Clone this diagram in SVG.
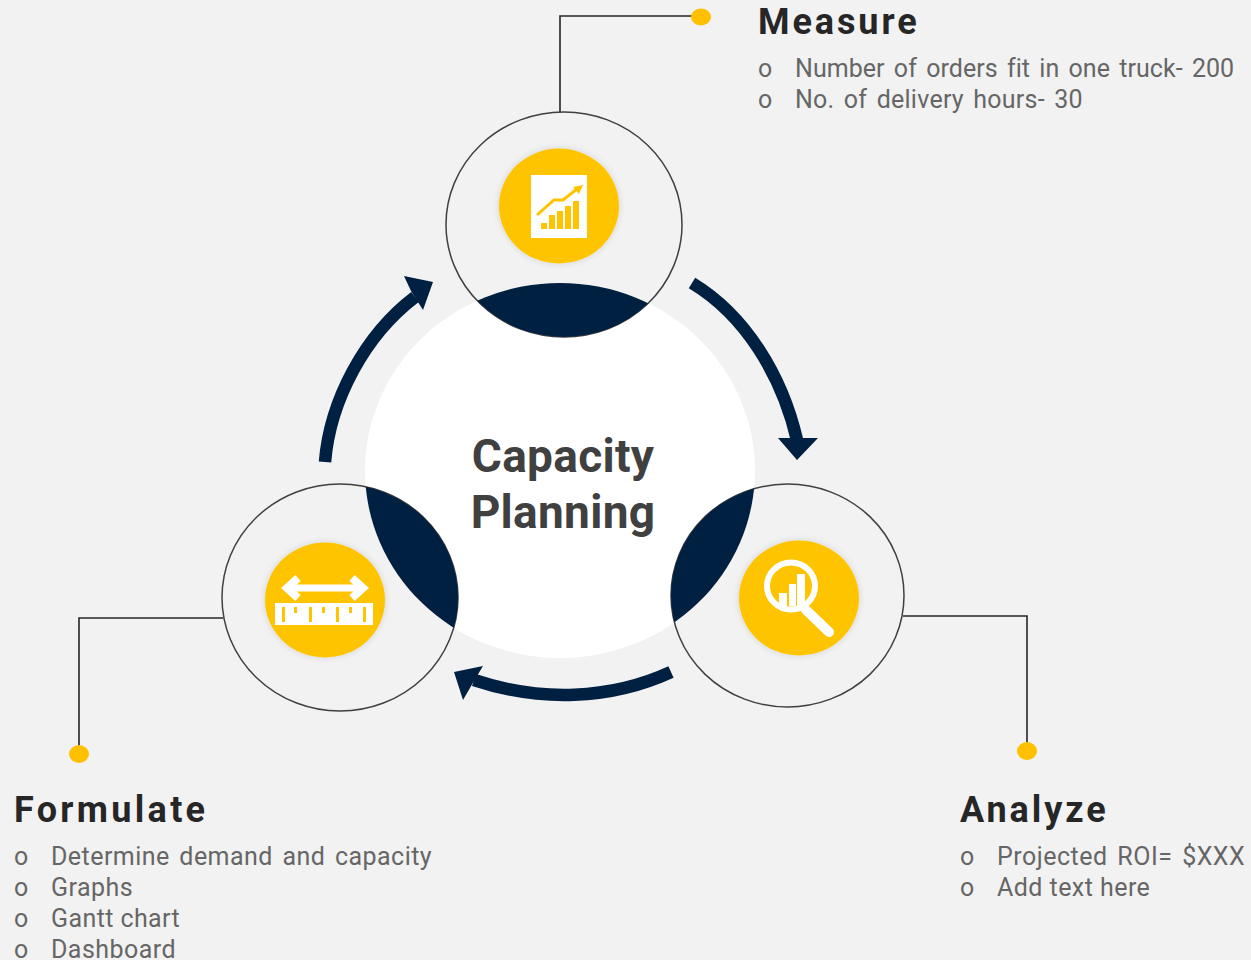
<svg xmlns="http://www.w3.org/2000/svg" width="1251" height="960" viewBox="0 0 1251 960">
<style>
.ring{fill:none;stroke:#404040;stroke-width:1.5}
.lens{fill:#002042}
.badge{fill:#ffc400;filter:url(#soft)}
.ic{fill:#fff}
.cut{fill:#ffc400}
.arrow{fill:none;stroke:#002042;stroke-width:12.500}
.head{fill:#002042}
.wire{fill:none;stroke:#262626;stroke-width:1.600}
.dot{fill:#ffc000}
.title{font-family:"Roboto","Liberation Sans",sans-serif;font-weight:700;font-size:36px;letter-spacing:2.900px;fill:#262626}
.h{font-family:"Roboto","Liberation Sans",sans-serif;font-weight:700;font-size:46px;letter-spacing:.3px;fill:#404040}
.b{font-family:"Roboto","Liberation Sans",sans-serif;font-size:25px;fill:#666}
</style>
<defs>
<clipPath id="cw"><ellipse cx="560" cy="470.500" rx="195" ry="187.500"/></clipPath>
<filter id="soft" x="-15%" y="-15%" width="130%" height="130%"><feDropShadow dx="0" dy="0" stdDeviation="3" flood-color="#000" flood-opacity=".14"/></filter>
</defs>
<rect width="1251" height="960" fill="#f2f2f2"/>
<g id="hub">
<ellipse cx="560" cy="470.500" rx="195" ry="187.500" fill="#fff"/>
<text class="h" x="563" y="472" text-anchor="middle">Capacity</text>
<text class="h" x="563" y="528" text-anchor="middle">Planning</text>
</g>
<g id="connectors">
<path class="wire" d="M560 112V16H692"/>
<path class="wire" d="M903 616H1027V744"/>
<path class="wire" d="M223 618H79V746"/>
<path class="arrow" d="M692 283C745 315 782 375 797 440"/>
<polygon class="head" points="778,438 818,438 797,460"/>
<path class="arrow" d="M325 462C330 400 365 335 415 297"/>
<polygon class="head" points="404,276 433,282 423,310 411,291"/>
<path class="arrow" d="M671 672C610 700 540 702 474 680"/>
<polygon class="head" points="483,666 454,672 463,700 474,681"/>
</g>
<g id="measure">
<ellipse class="ring" cx="564" cy="224.500" rx="118" ry="112.500"/>
<ellipse class="lens" cx="564" cy="224.500" rx="118" ry="112.500" clip-path="url(#cw)"/>
<ellipse class="badge" cx="559" cy="206" rx="60" ry="57.500"/>
<rect class="ic" x="531" y="175" width="56" height="63"/>
<path class="cut" d="M541 223h6v6h-6zM549 215h6v14h-6zM557 211h6v18h-6zM565 206h6v23h-6zM573 201h6v28h-6z"/>
<path d="M537 215L554 200H563L577 189" fill="none" stroke="#ffc400" stroke-width="3"/>
<polygon class="cut" points="573,187 583,185 579,194"/>
<ellipse class="dot" cx="701" cy="17" rx="10" ry="8.500"/>
<text class="title" x="758" y="34">Measure</text>
<text class="b" x="758" y="77">o</text><text class="b" x="795" y="77" word-spacing="3" letter-spacing=".05">Number of orders fit in one truck- 200</text>
<text class="b" x="758" y="108">o</text><text class="b" x="795" y="108" word-spacing="3" letter-spacing=".24">No. of delivery hours- 30</text>
</g>
<g id="analyze">
<ellipse class="ring" cx="787.500" cy="595.500" rx="116.500" ry="111.500"/>
<ellipse class="lens" cx="787.500" cy="595.500" rx="116.500" ry="111.500" clip-path="url(#cw)"/>
<ellipse class="badge" cx="799" cy="598" rx="60" ry="57.500"/>
<ellipse cx="791" cy="586" rx="24" ry="23.500" fill="none" stroke="#fff" stroke-width="6"/>
<path class="ic" d="M779 593h8v13h-8zM789 584h7v22h-7zM797 574h8v32h-8z"/>
<path d="M806 610L829 632" fill="none" stroke="#fff" stroke-width="10" stroke-linecap="round"/>
<ellipse class="dot" cx="1027" cy="751" rx="10" ry="9"/>
<text class="title" x="960" y="822">Analyze</text>
<text class="b" x="960" y="865">o</text><text class="b" x="997" y="865" word-spacing="3" letter-spacing=".5">Projected ROI= $XXX</text>
<text class="b" x="960" y="896">o</text><text class="b" x="997" y="896" letter-spacing=".45">Add text here</text>
</g>
<g id="formulate">
<ellipse class="ring" cx="340" cy="597.500" rx="118" ry="113.500"/>
<ellipse class="lens" cx="340" cy="597.500" rx="118" ry="113.500" clip-path="url(#cw)"/>
<ellipse class="badge" cx="325" cy="600" rx="60" ry="57.500"/>
<path d="M288 588H360" stroke="#fff" stroke-width="7" fill="none"/>
<path d="M298 578L287 588L298 598M352 578L363 588L352 598" fill="none" stroke="#fff" stroke-width="8"/>
<rect class="ic" x="275" y="603" width="98" height="22"/>
<path class="cut" d="M282 607h3v15h-3zM294 607h3v6h-3zM309 607h3v15h-3zM322 607h3v6h-3zM336 607h3v15h-3zM349 607h3v6h-3zM363 607h3v15h-3z"/>
<ellipse class="dot" cx="79" cy="754" rx="10" ry="9"/>
<text class="title" x="14" y="822" style="letter-spacing:3.3px">Formulate</text>
<text class="b" x="14" y="865">o</text><text class="b" x="51" y="865" word-spacing="3" letter-spacing=".45">Determine demand and capacity</text>
<text class="b" x="14" y="896">o</text><text class="b" x="51" y="896" letter-spacing=".45">Graphs</text>
<text class="b" x="14" y="927">o</text><text class="b" x="51" y="927" letter-spacing=".4">Gantt chart</text>
<text class="b" x="14" y="958">o</text><text class="b" x="51" y="958" letter-spacing=".45">Dashboard</text>
</g>
</svg>
